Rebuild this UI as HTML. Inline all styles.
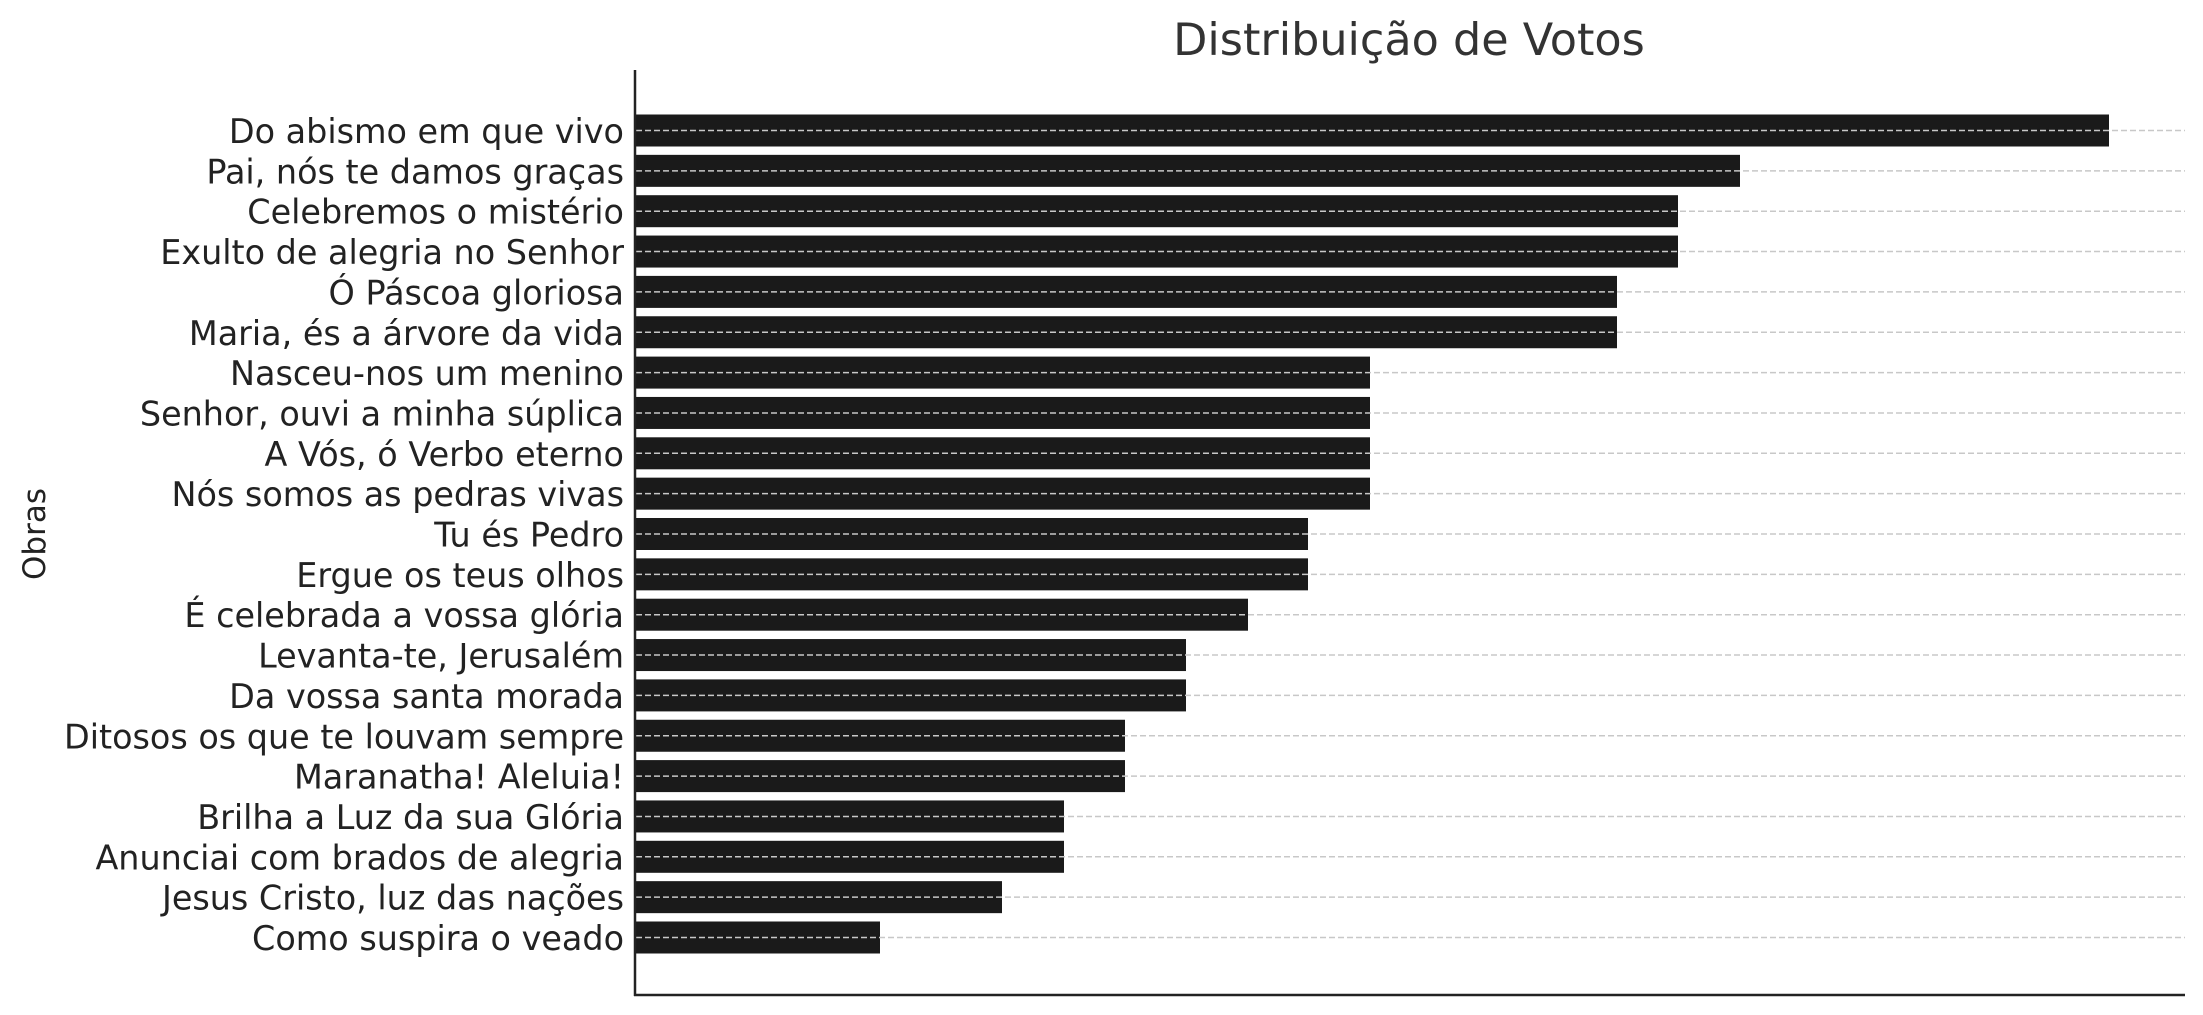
<!DOCTYPE html>
<html><head><meta charset="utf-8"><style>
html,body{margin:0;padding:0;background:#fff;}
svg{display:block;font-family:"DejaVu Sans","Liberation Sans",sans-serif;}
</style></head><body>
<svg width="2203" height="1015" viewBox="0 0 2203 1015" xmlns="http://www.w3.org/2000/svg">
<text x="1409" y="55" font-size="44.5" fill="#333" text-anchor="middle">Distribuição de Votos</text>
<text transform="translate(45,534) rotate(-90)" font-size="31" fill="#222" text-anchor="middle">Obras</text>
<g transform="translate(0,1.5)">
<g id="bars" fill="#1a1a1a">
<rect x="635" y="113" width="1474" height="32"/>
<rect x="635" y="153.35" width="1105" height="32"/>
<rect x="635" y="193.7" width="1043" height="32"/>
<rect x="635" y="234.05" width="1043" height="32"/>
<rect x="635" y="274.4" width="982" height="32"/>
<rect x="635" y="314.75" width="982" height="32"/>
<rect x="635" y="355.1" width="735" height="32"/>
<rect x="635" y="395.45" width="735" height="32"/>
<rect x="635" y="435.8" width="735" height="32"/>
<rect x="635" y="476.15" width="735" height="32"/>
<rect x="635" y="516.5" width="673" height="32"/>
<rect x="635" y="556.85" width="673" height="32"/>
<rect x="635" y="597.2" width="613" height="32"/>
<rect x="635" y="637.55" width="551" height="32"/>
<rect x="635" y="677.9" width="551" height="32"/>
<rect x="635" y="718.25" width="490" height="32"/>
<rect x="635" y="758.6" width="490" height="32"/>
<rect x="635" y="798.95" width="429" height="32"/>
<rect x="635" y="839.3" width="429" height="32"/>
<rect x="635" y="879.65" width="367" height="32"/>
<rect x="635" y="920" width="245" height="32"/>
</g>
<g stroke="#c8c8c8" stroke-width="1.5" stroke-dasharray="6,3">
<line x1="636" x2="2185" y1="129" y2="129"/>
<line x1="636" x2="2185" y1="169.35" y2="169.35"/>
<line x1="636" x2="2185" y1="209.7" y2="209.7"/>
<line x1="636" x2="2185" y1="250.05" y2="250.05"/>
<line x1="636" x2="2185" y1="290.4" y2="290.4"/>
<line x1="636" x2="2185" y1="330.75" y2="330.75"/>
<line x1="636" x2="2185" y1="371.1" y2="371.1"/>
<line x1="636" x2="2185" y1="411.45" y2="411.45"/>
<line x1="636" x2="2185" y1="451.8" y2="451.8"/>
<line x1="636" x2="2185" y1="492.15" y2="492.15"/>
<line x1="636" x2="2185" y1="532.5" y2="532.5"/>
<line x1="636" x2="2185" y1="572.85" y2="572.85"/>
<line x1="636" x2="2185" y1="613.2" y2="613.2"/>
<line x1="636" x2="2185" y1="653.55" y2="653.55"/>
<line x1="636" x2="2185" y1="693.9" y2="693.9"/>
<line x1="636" x2="2185" y1="734.25" y2="734.25"/>
<line x1="636" x2="2185" y1="774.6" y2="774.6"/>
<line x1="636" x2="2185" y1="814.95" y2="814.95"/>
<line x1="636" x2="2185" y1="855.3" y2="855.3"/>
<line x1="636" x2="2185" y1="895.65" y2="895.65"/>
<line x1="636" x2="2185" y1="936" y2="936"/>
</g>
<g font-size="33.4" fill="#222" text-anchor="end">
<text x="624" y="141.5">Do abismo em que vivo</text>
<text x="624" y="181.85">Pai, nós te damos graças</text>
<text x="624" y="222.2">Celebremos o mistério</text>
<text x="624" y="262.55">Exulto de alegria no Senhor</text>
<text x="624" y="302.9">Ó Páscoa gloriosa</text>
<text x="624" y="343.25">Maria, és a árvore da vida</text>
<text x="624" y="383.6">Nasceu-nos um menino</text>
<text x="624" y="423.95">Senhor, ouvi a minha súplica</text>
<text x="624" y="464.3">A Vós, ó Verbo eterno</text>
<text x="624" y="504.65">Nós somos as pedras vivas</text>
<text x="624" y="545">Tu és Pedro</text>
<text x="624" y="585.35">Ergue os teus olhos</text>
<text x="624" y="625.7">É celebrada a vossa glória</text>
<text x="624" y="666.05">Levanta-te, Jerusalém</text>
<text x="624" y="706.4">Da vossa santa morada</text>
<text x="624" y="746.75">Ditosos os que te louvam sempre</text>
<text x="624" y="787.1">Maranatha! Aleluia!</text>
<text x="624" y="827.45">Brilha a Luz da sua Glória</text>
<text x="624" y="867.8">Anunciai com brados de alegria</text>
<text x="624" y="908.15">Jesus Cristo, luz das nações</text>
<text x="624" y="948.5">Como suspira o veado</text>
</g>
</g>
<line x1="635" y1="70" x2="635" y2="996" stroke="#222" stroke-width="2.5"/>
<line x1="634" y1="995" x2="2185" y2="995" stroke="#222" stroke-width="2.5"/>
</svg>
</body></html>
